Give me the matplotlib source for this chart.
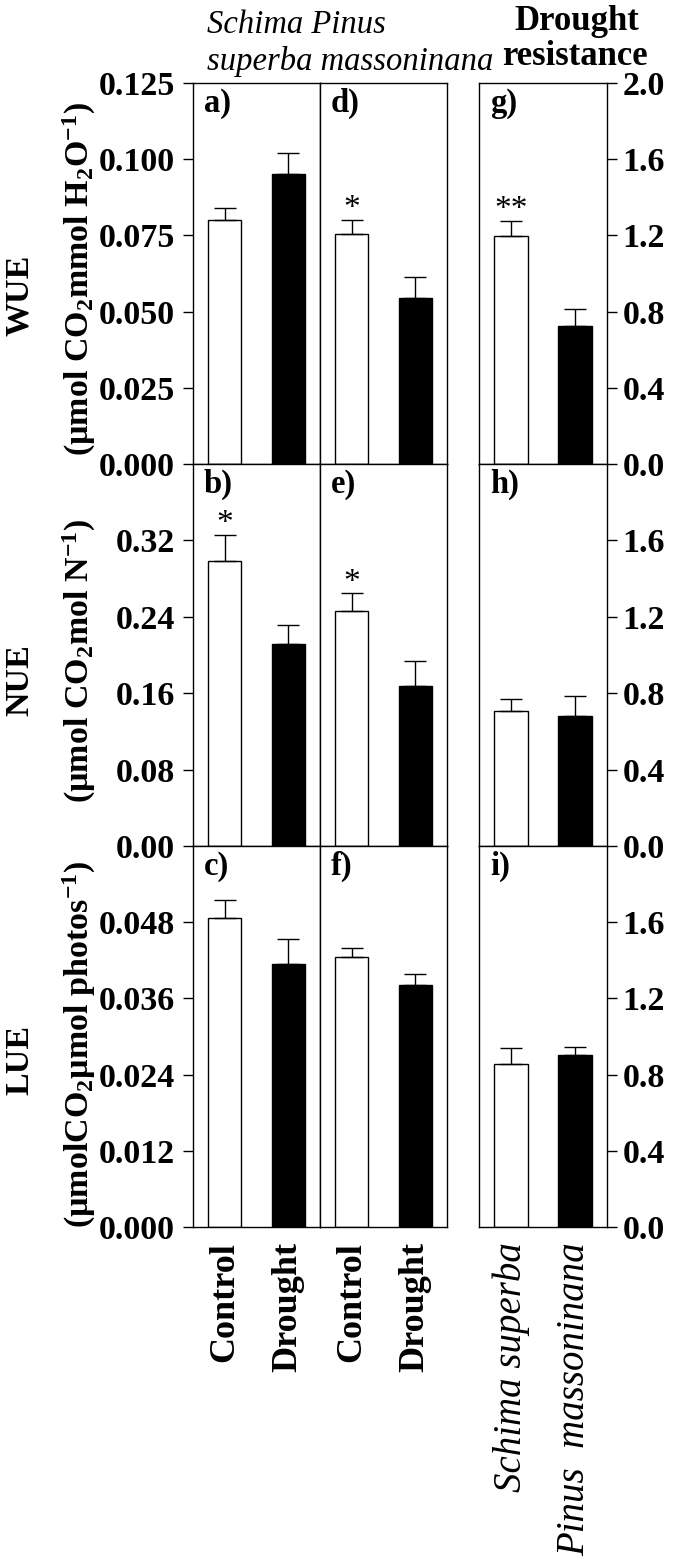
import matplotlib.pyplot as plt
import numpy as np

plt.rcParams['font.family'] = ['Liberation Serif', 'DejaVu Serif']
plt.rcParams['mathtext.fontset'] = 'custom'
plt.rcParams['mathtext.rm'] = 'Liberation Serif:bold'
plt.rcParams['mathtext.it'] = 'Liberation Serif:italic:bold'
plt.rcParams['mathtext.bf'] = 'Liberation Serif:bold'

# Data: [Control, Drought] and drought resistance [Schima, Pinus]
treatments = ['Control', 'Drought']
species = ['Schima superba', 'Pinus  massoninana']

wue_schima = [0.0801, 0.0951]
wue_schima_err = [0.0040, 0.0068]
wue_pinus = [0.0755, 0.0545]
wue_pinus_err = [0.0046, 0.0068]
dr_wue = [1.197, 0.724]
dr_wue_err = [0.080, 0.090]

nue_schima = [0.298, 0.211]
nue_schima_err = [0.028, 0.020]
nue_pinus = [0.246, 0.168]
nue_pinus_err = [0.0185, 0.026]
dr_nue = [0.705, 0.682]
dr_nue_err = [0.067, 0.103]

lue_schima = [0.0486, 0.0414]
lue_schima_err = [0.0029, 0.0039]
lue_pinus = [0.0425, 0.0381]
lue_pinus_err = [0.0014, 0.0017]
dr_lue = [0.856, 0.903]
dr_lue_err = [0.082, 0.043]

# significance marks on the first bar of a panel
marks = {'d': '*', 'g': '**', 'b': '*', 'e': '*'}

W, H = 675, 1563
fig = plt.figure(figsize=(W / 100, H / 100), dpi=100)


def px_axes(x0, x1, y0, y1):
    return fig.add_axes([x0 / W, 1 - y1 / H, (x1 - x0) / W, (y1 - y0) / H])


cols = [(193, 320), (320, 447), (479, 607)]
rows = [(83, 464), (464, 846), (846, 1227)]

panels = [
    [('a', wue_schima, wue_schima_err), ('d', wue_pinus, wue_pinus_err), ('g', dr_wue, dr_wue_err)],
    [('b', nue_schima, nue_schima_err), ('e', nue_pinus, nue_pinus_err), ('h', dr_nue, dr_nue_err)],
    [('c', lue_schima, lue_schima_err), ('f', lue_pinus, lue_pinus_err), ('i', dr_lue, dr_lue_err)],
]

left_lims = [0.125, 0.40, 0.060]
left_ticks = [np.arange(0, 0.1251, 0.025), np.arange(0, 0.321, 0.08), np.arange(0, 0.0481, 0.012)]
left_fmt = ['%.3f', '%.2f', '%.3f']
right_ticks = [np.arange(0, 2.01, 0.4), np.arange(0, 1.61, 0.4), np.arange(0, 1.61, 0.4)]

x = np.arange(2)
for r in range(3):
    for c in range(3):
        letter, vals, errs = panels[r][c]
        ax = px_axes(cols[c][0], cols[c][1], rows[r][0], rows[r][1])
        ax.bar(x, vals, width=0.52, color=['white', 'black'], edgecolor='black', linewidth=1.0,
               yerr=[[0, 0], errs], error_kw=dict(ecolor='black', elinewidth=1.0, capsize=8, capthick=1.0))
        ax.set_xlim(-0.5, 1.5)
        ax.set_ylim(0, left_lims[r] if c < 2 else 2.0)
        for s in ax.spines.values():
            s.set_linewidth(1.0)
        ax.text(0.085, 0.988, letter + ')', transform=ax.transAxes, ha='left', va='top',
                fontsize=23.5, fontweight='bold')
        if letter in marks:
            ax.annotate(marks[letter], xy=(0, vals[0] + errs[0]), xytext=(0, 2),
                        textcoords='offset points', ha='center', va='baseline', fontsize=24)

        # y axes
        if c == 0:
            ax.set_yticks(left_ticks[r])
            ax.set_yticklabels([left_fmt[r] % t for t in left_ticks[r]], fontsize=24.5, fontweight='bold')
            ax.tick_params(axis='y', direction='out', length=7.2, width=1.0, pad=6)
        elif c == 1:
            ax.set_yticks([])
        else:
            ax.yaxis.tick_right()
            ax.set_yticks(right_ticks[r])
            ax.set_yticklabels(['%.1f' % t for t in right_ticks[r]], fontsize=24.5, fontweight='bold')
            ax.tick_params(axis='y', direction='out', length=7.2, width=1.0, pad=4)

        # x axes
        ax.tick_params(axis='x', length=0, pad=11)
        if r == 2:
            ax.set_xticks(x)
            if c < 2:
                ax.set_xticklabels(treatments, rotation=90, fontsize=26, fontweight='bold')
            else:
                ax.set_xticklabels(species, rotation=90, fontsize=28, style='italic')
        else:
            ax.set_xticks([])

# column headings
fig.text(207 / W, 1 - 33 / H, 'Schima Pinus', style='italic', fontsize=23.5, va='baseline')
fig.text(207 / W, 1 - 70 / H, 'superba massoninana', style='italic', fontsize=23.5, va='baseline')
fig.text(577 / W, 1 - 30 / H, 'Drought', ha='center', va='baseline', fontsize=25, fontweight='bold')
fig.text(575 / W, 1 - 65 / H, 'resistance', ha='center', va='baseline', fontsize=25, fontweight='bold')

# y axis titles
ylab1 = ['WUE', 'NUE', 'LUE']
ylab2 = ['(µmol CO$_2$mmol H$_2$O$^{-1}$)', '(µmol CO$_2$mol N$^{-1}$)', '(µmolCO$_2$µmol photos$^{-1}$)']
ylab1_y = [295, 680, 1060]
ylab2_y = [279, 661, 1044]
for i in range(3):
    fig.text(28 / W, 1 - ylab1_y[i] / H, ylab1[i], rotation=90, rotation_mode='anchor',
             ha='center', va='baseline', fontsize=24.5, fontweight='bold')
    fig.text(89 / W, 1 - ylab2_y[i] / H, ylab2[i], rotation=90, rotation_mode='anchor',
             ha='center', va='baseline', fontsize=24.5, fontweight='bold')

fig.savefig('out.png', dpi=100)
